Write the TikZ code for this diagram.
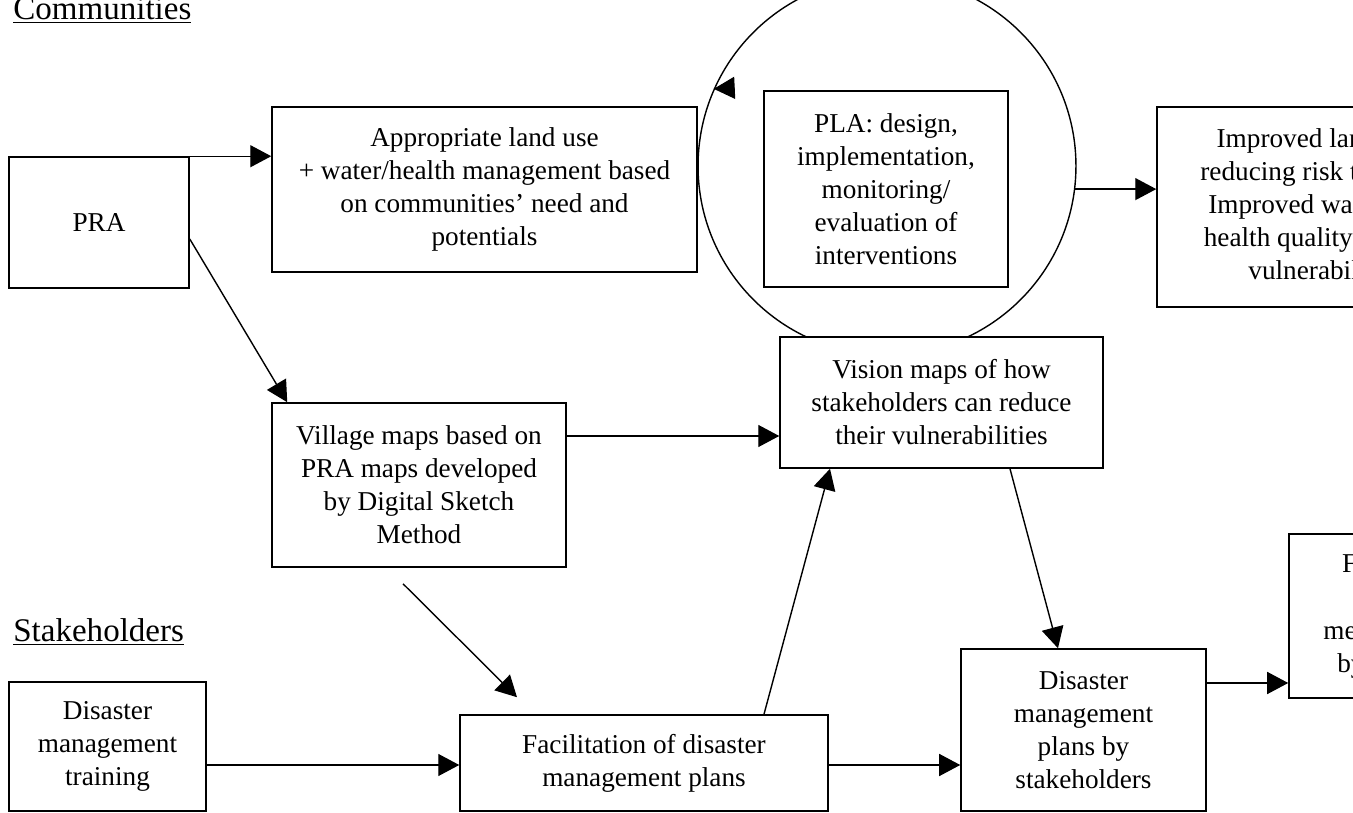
\documentclass[tikz,border=0pt]{standalone}
\usepackage{fontspec}
\setmainfont{Liberation Serif}
\usetikzlibrary{arrows.meta,calc}
\begin{document}
\begin{tikzpicture}[x=0.02cm, y=-0.02cm,
        box/.style={draw, fill=white, line width=0.9pt, inner sep=0pt, align=center, font=\fontsize{15.5}{18.8}\selectfont},
        arr/.style={line width=0.8pt, -{Triangle[length=0.42cm, width=0.44cm]}},
        head/.style={anchor=base west, inner sep=0pt, font=\fontsize{18.8}{22}\selectfont}]
        \useasboundingbox (0,0) rectangle (1353,813);
        \clip (0,0) rectangle (1353,813);

        \node[head] (comm) at (13,20) {\underline{Communities}};
        \node[head] (stak) at (13,642) {\underline{Stakeholders}};

        % planning cycle
        \node[draw, circle, line width=0.8pt, minimum size=7.56cm, inner sep=0pt] (cyc) at (887,166) {};
        \draw[arr] ($(cyc.156.6)+(21,-1)$) -- (cyc.156.6);

        \node[box, minimum width=3.6cm, minimum height=2.62cm] (pra) at (99,222.5) {PRA};
        \node[box, minimum width=8.5cm, minimum height=3.3cm] (landuse) at (484.5,189.5) {Appropriate land use\\+ water/health management based\\on communities’ need and\\potentials};
        \node[box, minimum width=4.88cm, minimum height=3.92cm] (pla) at (886,189) {PLA: design,\\implementation,\\monitoring/\\evaluation of\\interventions};
        \node[box, minimum width=6.44cm, minimum height=4cm] (improved) at (1318,207) {Improved land use\\reducing risk to flood\\Improved water and\\health quality reduce\\vulnerability};
        \node[box, minimum width=5.88cm, minimum height=3.28cm] (village) at (419,485) {Village maps based on\\PRA maps developed\\by Digital Sketch\\Method};
        \node[box, minimum width=6.46cm, minimum height=2.62cm] (vision) at (941.5,402.5) {Vision maps of how\\stakeholders can reduce\\their vulnerabilities};
        \node[box, minimum width=3.94cm, minimum height=2.58cm] (training) at (107.5,746.5) {Disaster\\management\\training};
        \node[box, minimum width=7.36cm, minimum height=1.92cm] (facil) at (644,763) {Facilitation of disaster\\management plans};
        \node[box, minimum width=4.9cm, minimum height=3.24cm] (plans) at (1083.5,730) {Disaster\\management\\plans by\\stakeholders};
        \node[box, minimum width=3.4cm, minimum height=3.28cm] (flood) at (1374,616) {Flood\\risk\\measures\\by law};

        \draw[arr] (pra.north east) -- (pra.north east -| landuse.west);
        \draw[arr] (pra.east |- 0,239) -- ($(village.north west)+(16,0)$);
        \draw[arr] (cyc.-7.3) -- (cyc.-7.3 -| improved.west);
        \draw[arr] (village.east |- 0,436) -- (vision.west |- 0,436);
        \draw[arr] ($(village.south)+(-16,16)$) -- ($(facil.north)+(-127,-17)$);
        \draw[arr] (764,0 |- facil.north) -- (830,0 |- vision.south);
        \draw[arr] (1010,0 |- vision.south) -- (1058,0 |- plans.north);
        \draw[arr] (training.east |- 0,765) -- (facil.west |- 0,765);
        \draw[arr] (facil.east |- 0,765) -- (plans.west |- 0,765);
        \draw[arr] (plans.east |- 0,683) -- (flood.west |- 0,683);

    \end{tikzpicture}
\end{document}
